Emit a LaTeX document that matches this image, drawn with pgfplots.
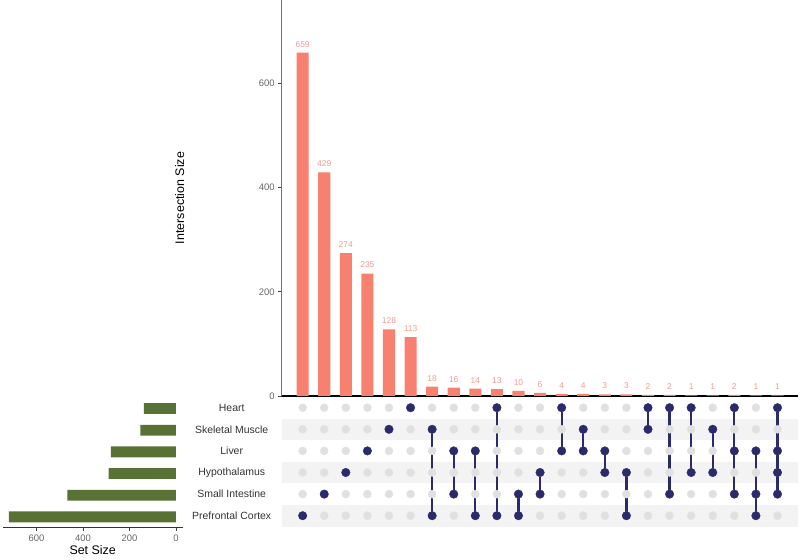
\documentclass[border=0pt]{standalone}
\usepackage{fontspec}
\setmainfont{Liberation Sans}
\usepackage{pgfplots}
\pgfplotsset{compat=1.18}
\definecolor{barred}{HTML}{F8806F}
\definecolor{labred}{HTML}{F59A8E}
\definecolor{navy}{HTML}{2B2A6B}
\definecolor{dotgrey}{HTML}{E0E0E0}
\definecolor{stripe}{HTML}{F3F3F3}
\definecolor{setgreen}{HTML}{587134}
\begin{document}
\begin{tikzpicture}
\path[use as bounding box] (0bp,0bp) rectangle (800bp,560bp);
% ---------- intersection size bars ----------
\begin{axis}[at={(281.7bp,164bp)}, anchor=south west, scale only axis,
  width=516.3bp, height=396bp,
  xmin=0.03, xmax=23.95, ymin=0, ymax=760,
  axis x line*=bottom, axis y line*=left,
  x axis line style={-, black, line width=1.2bp},
  y axis line style={-, black!55, line width=0.8bp},
  xtick=\empty, ytick={0,200,400,600},
  tick align=outside, major tick length=3.5bp,
  tick style={black!75, line width=0.8bp},
  /pgf/number format/assume math mode=true,
  yticklabel style={font=\fontsize{9.5}{10}\selectfont, text=black!60},
  ylabel={Intersection Size},
  ylabel style={font=\fontsize{12.5}{13}\selectfont, at={(axis description cs:-0.1975,0.5)}, anchor=center},
  clip=false]
\addplot[ybar, bar width=0.56, fill=barred, draw=none,
  nodes near coords,
  every node near coord/.append style={font=\fontsize{8.5}{9}\selectfont, text=labred, yshift=2bp}]
  coordinates {(1,659)(2,429)(3,274)(4,235)(5,128)(6,113)(7,18)(8,16)(9,14)(10,13)(11,10)(12,6)
  (13,4)(14,4)(15,3)(16,3)(17,2)(18,2)(19,1)(20,1)(21,2)(22,1)(23,1)};
\end{axis}
% ---------- matrix ----------
\begin{axis}[at={(281.7bp,33.5bp)}, anchor=south west, scale only axis,
  width=516.3bp, height=129.6bp,
  xmin=0.03, xmax=23.95, ymin=-0.5, ymax=5.5,
  axis line style={draw=none},
  xtick=\empty, ytick={0,1,2,3,4,5},
  yticklabels={Prefrontal Cortex, Small Intestine, Hypothalamus, Liver, Skeletal Muscle, Heart},
  major tick length=0pt,
  yticklabel style={anchor=center, xshift=-50bp, font=\fontsize{10.5}{11}\selectfont, text=black!80},
  clip=false,
  act/.style={navy, line width=2.2bp, mark=*, mark size=4.3bp, mark options={solid, line width=0.3bp}}]
\fill[stripe] (axis cs:0.03,-0.5) rectangle (axis cs:23.95,0.5);
\fill[stripe] (axis cs:0.03,1.5) rectangle (axis cs:23.95,2.5);
\fill[stripe] (axis cs:0.03,3.5) rectangle (axis cs:23.95,4.5);
\pgfplotsinvokeforeach{0,1,2,3,4,5}{
\addplot[only marks, mark=*, mark size=4bp, color=dotgrey] coordinates {(1,#1)(2,#1)(3,#1)(4,#1)(5,#1)(6,#1)(7,#1)(8,#1)(9,#1)(10,#1)(11,#1)(12,#1)(13,#1)(14,#1)(15,#1)(16,#1)(17,#1)(18,#1)(19,#1)(20,#1)(21,#1)(22,#1)(23,#1)};
}
\addplot[act] coordinates {(1,0)};
\addplot[act] coordinates {(2,1)};
\addplot[act] coordinates {(3,2)};
\addplot[act] coordinates {(4,3)};
\addplot[act] coordinates {(5,4)};
\addplot[act] coordinates {(6,5)};
\addplot[act] coordinates {(7,0)(7,4)};
\addplot[act] coordinates {(8,1)(8,3)};
\addplot[act] coordinates {(9,0)(9,3)};
\addplot[act] coordinates {(10,0)(10,5)};
\addplot[act] coordinates {(11,0)(11,1)};
\addplot[act] coordinates {(12,1)(12,2)};
\addplot[act] coordinates {(13,3)(13,5)};
\addplot[act] coordinates {(14,3)(14,4)};
\addplot[act] coordinates {(15,2)(15,3)};
\addplot[act] coordinates {(16,0)(16,2)};
\addplot[act] coordinates {(17,4)(17,5)};
\addplot[act] coordinates {(18,1)(18,5)};
\addplot[act] coordinates {(19,2)(19,5)};
\addplot[act] coordinates {(20,2)(20,4)};
\addplot[act] coordinates {(21,1)(21,3)(21,5)};
\addplot[act] coordinates {(22,0)(22,1)(22,3)};
\addplot[act] coordinates {(23,1)(23,2)(23,3)(23,5)};
\end{axis}
% ---------- set size ----------
\begin{axis}[at={(2.7bp,32.3bp)}, anchor=south west, scale only axis,
  width=180bp, height=130bp,
  x dir=reverse, xmin=-29, xmax=745, ymin=-0.5, ymax=5.5,
  axis x line*=bottom, axis y line=none,
  x axis line style={-, black!80, line width=1bp},
  xtick={0,200,400,600}, ytick=\empty,
  tick align=outside, major tick length=3.5bp,
  tick style={black!75, line width=0.8bp},
  /pgf/number format/assume math mode=true,
  xticklabel style={font=\fontsize{9.5}{10}\selectfont, text=black!60},
  xlabel={Set Size},
  xlabel style={font=\fontsize{12.5}{13}\selectfont, yshift=3bp}]
\addplot[xbar, bar width=0.5, fill=setgreen, draw=none]
  coordinates {(718,0)(467,1)(289,2)(280,3)(153,4)(138,5)};
\end{axis}
\end{tikzpicture}
\end{document}
